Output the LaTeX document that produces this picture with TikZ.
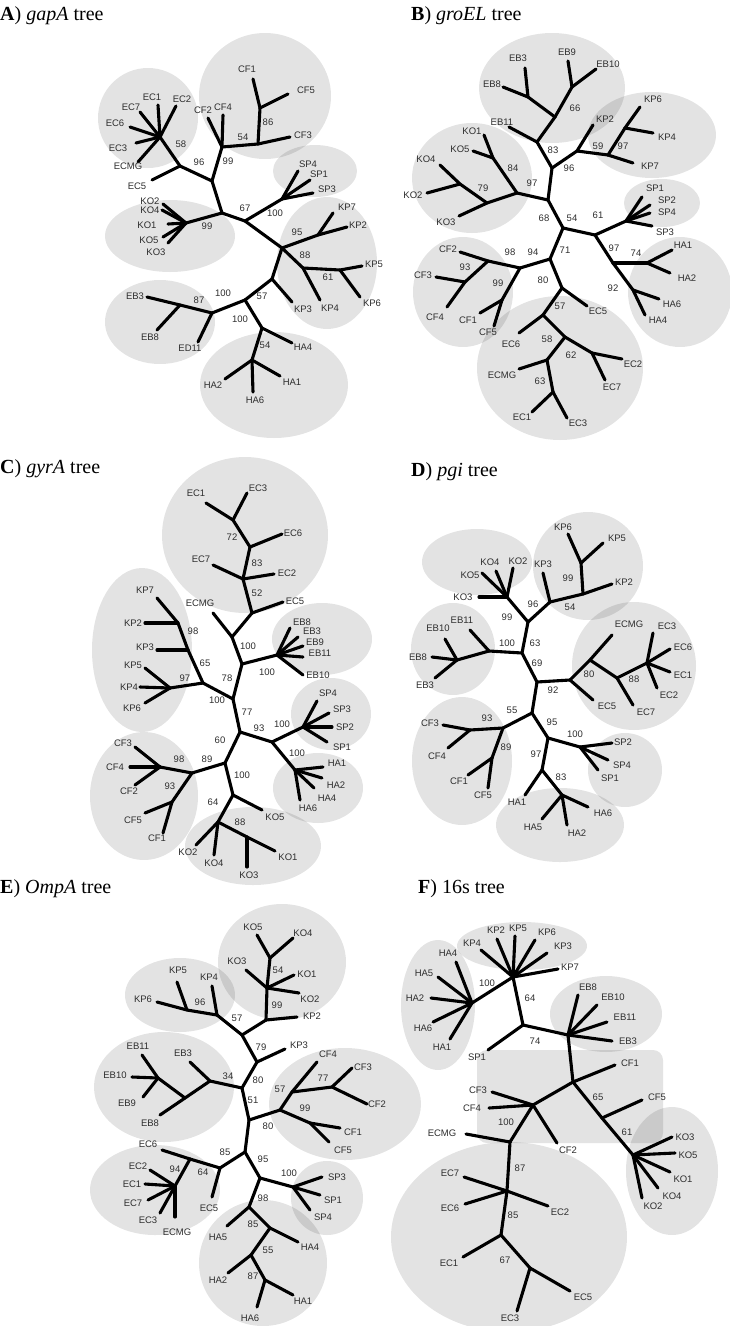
\documentclass[tikz,border=0pt]{standalone}
\usepackage{fontspec}
\setmainfont{Liberation Serif}
\setsansfont{Liberation Sans}
\begin{document}
\begin{tikzpicture}[x=1pt,y=-1pt,
  clade/.style={fill=black,fill opacity=0.11,draw=none},
  br/.style={line width=3.1pt,line cap=round,line join=round},
  lbl/.style={font=\sffamily\fontsize{9.5}{10}\selectfont,text=black!82,inner sep=0pt},
  capt/.style={font=\fontsize{20}{22}\selectfont,anchor=base west,inner sep=0pt}]
\useasboundingbox (0,0) rectangle (730,1326);

% ---------- captions ----------
\node[capt] (capA) at (0,20)    {\textbf{A}) \textit{gapA} tree};
\node[capt] (capB) at (411,20)  {\textbf{B}) \textit{groEL} tree};
\node[capt] (capC) at (0,473)   {\textbf{C}) \textit{gyrA} tree};
\node[capt] (capD) at (411,476) {\textbf{D}) \textit{pgi} tree};
\node[capt] (capE) at (0,893)   {\textbf{E}) \textit{OmpA} tree};
\node[capt] (capF) at (418,893) {\textbf{F}) 16s tree};

% ---------- clade shading ----------
% A
\fill[clade] (148,118) ellipse [x radius=50,y radius=50];
\fill[clade] (265,96)  ellipse [x radius=66,y radius=63];
\fill[clade] (315,171) ellipse [x radius=42,y radius=26];
\fill[clade] (170,236) ellipse [x radius=65,y radius=36];
\fill[clade] (327,263) ellipse [x radius=50,y radius=66];
\fill[clade] (160,322) ellipse [x radius=55,y radius=42];
\fill[clade] (274,385) ellipse [x radius=74,y radius=53];
% B
\fill[clade] (552,88)  ellipse [x radius=73,y radius=55];
\fill[clade] (652,135) ellipse [x radius=64,y radius=43];
\fill[clade] (472,178) ellipse [x radius=60,y radius=55];
\fill[clade] (662,203) ellipse [x radius=38,y radius=24];
\fill[clade] (463,292) ellipse [x radius=50,y radius=55];
\fill[clade] (680,292) ellipse [x radius=52,y radius=55];
\fill[clade] (560,368) ellipse [x radius=83,y radius=72];
% C
\fill[clade] (245,535) ellipse [x radius=83,y radius=78];
\fill[clade] (142,650) ellipse [x radius=50,y radius=82];
\fill[clade] (322,639) ellipse [x radius=50,y radius=36];
\fill[clade] (331,714) ellipse [x radius=40,y radius=36];
\fill[clade] (318,788) ellipse [x radius=45,y radius=35];
\fill[clade] (144,796) ellipse [x radius=54,y radius=64];
\fill[clade] (253,846) ellipse [x radius=68,y radius=39];
% D
\fill[clade] (477,562) ellipse [x radius=55,y radius=33];
\fill[clade] (588,566) ellipse [x radius=55,y radius=54];
\fill[clade] (453,649) ellipse [x radius=42,y radius=46];
\fill[clade] (634,666) ellipse [x radius=62,y radius=64];
\fill[clade] (462,761) ellipse [x radius=50,y radius=64];
\fill[clade] (625,770) ellipse [x radius=37,y radius=37];
\fill[clade] (560,825) ellipse [x radius=64,y radius=37];
% E
\fill[clade] (282,962)  ellipse [x radius=64,y radius=58];
\fill[clade] (180,995)  ellipse [x radius=55,y radius=37];
\fill[clade] (164,1087) ellipse [x radius=70,y radius=55];
\fill[clade] (345,1104) ellipse [x radius=76,y radius=56];
\fill[clade] (155,1190) ellipse [x radius=65,y radius=45];
\fill[clade] (327,1198) ellipse [x radius=36,y radius=37];
\fill[clade] (263,1263) ellipse [x radius=64,y radius=63];
% F
\fill[clade] (438,1005) ellipse [x radius=37,y radius=65];
\fill[clade] (522,946)  ellipse [x radius=65,y radius=24];
\fill[clade] (606,1014) ellipse [x radius=56,y radius=38];
\fill[clade,rounded corners=10pt] (477,1050) rectangle (663,1143);
\fill[clade] (672,1171) ellipse [x radius=46,y radius=64];
\begin{scope}
\clip (380,1100) rectangle (730,1326);
\fill[clade] (509,1237) ellipse [x radius=118,y radius=95];
\end{scope}

% ---------- tree vertices ----------
% A
\foreach \n/\x/\y in {aH/160/137,aEC1e/158/105,aEC2e/176/106,aEC7e/140/112,aEC6e/130/127,aEC3e/136/143,aECMGe/138/162,
  a58/180/166,aEC5e/152/180,a96/212/181,a99/222/147,aCF2e/208/118,aCF4e/223/115,a54/258/144,aCF3e/290/137,
  a86/260/108,aCF1e/253/79,aCF5e/288/94,a67/222/213,aKO/186/223,aKO2e/163/204,aKO4e/162/210,aKO1e/168/224,
  aKO5e/163/237,aKO3e/168/243,aJ/245/221,aSP/282/199,aSP4e/298/171,aSP1e/310/180,aSP3e/313/193,aKP/282/248,
  a95/318/235,aKP7e/333/213,aKP2e/347/227,a88/303/268,aKP4e/320/300,a61/340/270,aKP5e/362/266,aKP6e/360/297,
  a57/272/279,aKP3e/292/302,a100/245/300,aHA/262/328,aHA4e/292/343,a54h/252/360,aHA2e/225/379,aHA6e/253/392,
  aHA1e/280/376,aEB/212/313,aED11e/198/342,a87/180/305,aEB3e/147/297,aEB8e/157/330}
  \coordinate (\n) at (\x,\y);
% B
\foreach \n/\x/\y in {bEB3e/525/68,bEB8e/503/87,bJ1/528/97,bEB9e/568/61,bEB10e/596/69,bJ2/572/87,b66/555/117,
  b83/537/142,bEB11e/509/127,b96/552/168,bKP/577/151,bKP2e/593/125,b59/608/155,bKP7e/633/163,b97/625/128,
  bKP6e/640/107,bKP4e/653/133,b68/548/200,b97k/517/193,b84/493/158,bKO1e/484/135,bKO5e/473/151,b79/487/203,
  bKOs/460/184,bKO4e/440/165,bKO2e/427/193,bKO3e/459/216,b71/563/228,bSPHA/595/235,bSP/626/221,bSP1e/642/197,
  bSP2e/650/205,bSP4e/650/213,bSP3e/652/226,b97h/613/263,b74/647/263,bHA1e/672/250,bHA2e/670/273,b92/633/290,
  bHA6e/659/299,bHA4e/645/315,b94/550/259,b98/520/268,bCF/488/261,bCF2e/460/252,b93/465/282,bCF3e/436/277,
  bCF4e/447/307,b99/502/300,bCF1e/480/313,bCF5e/494/326,b80/562/288,bEC5e/587/306,b57/543/315,bEC6e/519/333,
  b58/565/337,b62/592/353,bEC2e/622/359,bEC7e/605/380,b63n/547/360,bECMGe/519/369,b63/553/392,bEC1e/532/412,
  bEC3e/567/418}
  \coordinate (\n) at (\x,\y);
% C
\foreach \n/\x/\y in {cEC1e/206/503,cEC3e/247/493,c72/233/520,c83/250/547,cEC6e/282/534,c52/243/579,cEC7e/213/565,
  cEC2e/274/574,c100/252/613,cEC5e/283/602,cN/232/637,cECMGe/213/613,cEBn/242/664,cEB/277/655,cEB8e/290/628,
  cEB3e/298/637,cEB9e/303/646,cEB11e/303/657,cEB10e/303/675,c77/233/699,cKP/203/683,c97/170/688,cKP5e/145/668,
  cKP4e/140/687,cKP6e/145/703,c65/188/650,cKP3e/157/650,c98/178/623,cKP7e/157/598,cKP2e/145/623,c60/240/732,
  c93/272/742,cSP/303/727,cSP4e/317/701,cSP3e/329/713,cSP2e/332/727,cSP1e/327/742,cHA/295/770,cHA1e/323/767,
  cHA2e/322/778,cHA4e/314/788,cHA6e/300/800,c89/225/763,cCF/192/773,cCFh/160/767,cCF3e/135/747,cCF4e/130/767,
  cCF2e/135/785,c93c/172/802,cCF5e/145/813,cCF1e/163/833,cKOn/233/795,cKO5e/262/810,c64/218/822,cKO2e/196/845,
  cKO4e/214/855,c88/247/837,cKO3e/247/867,cKO1e/275/851}
  \coordinate (\n) at (\x,\y);
% D
\foreach \n/\x/\y in {dKP6e/568/534,dKP5e/603/543,d99/581/563,d54n/583/594,dKP2e/612/584,d96/550/602,dKP3e/543/573,
  d63n/528/622,dKO/507/597,dKO4e/496/571,dKO2e/513/568,dKO5e/482/573,dKO3e/479/597,d69/522/653,dEBa/489/651,
  dEB11e/470/630,dEBb/457/660,dEB10e/445/639,dEB8e/432/657,dEB3e/435/678,d92/537/682,d80/570/680,dEC5e/593/700,
  dECa/590/660,dECMGe/612/635,d88/617/678,dEC7e/633/705,dEC/647/663,dEC1e/670/672,dEC2e/657/688,dEC3e/653/633,
  dEC6e/670/649,d55/532/713,dCF/503/728,d93/470/730,dCF3e/443/725,dCF4e/448/748,d89/492/758,dCF1e/468/775,
  dCF5e/488/788,d95/548/738,dSP/580/747,dSP2e/612/743,dSP4e/608/760,dSP1e/598/770,d97/542/770,dHA1e/525/795,
  d83/562/795,dHA5e/542/819,dHA2e/567/825,dHA6e/588/807}
  \coordinate (\n) at (\x,\y);
% E
\foreach \n/\x/\y in {eKO5e/257/935,eKO4e/293/938,e54/270/958,eKO/267/988,eKO3e/246/970,eKO1e/294/975,eKO2e/299/993,
  e99/266/1020,eKP2e/297/1017,e57/242/1035,eKP/217/1015,eKP4e/212/986,e96/187/1010,eKP5e/177/982,eKP6e/157/1002,
  e79/257/1062,eKP3e/285/1049,e80/242/1088,e84/210/1081,eEB3e/190/1062,eEBn/185/1098,eEB/158/1078,eEB11e/142/1055,
  eEB10e/132/1077,eEB9e/143/1097,eEB8e/160/1115,e51/249/1120,eCF/280/1110,e57c/292/1092,eCF4e/317/1062,
  e77/332/1087,eCF3e/352/1068,eCF2e/367/1104,e99c/310/1123,eCF1e/340/1128,eCF5e/329/1142,e85/245/1152,
  e64/220/1168,eEC5e/212/1197,eEC6e/162/1150,e94/190/1159,eEC/175/1186,eEC2e/150/1170,eEC1e/145/1184,
  eEC7e/148/1200,eEC3e/160/1213,eECMGe/175/1217,e95/260/1178,eSP/293/1187,eSP3e/322/1177,eSP1e/320/1195,
  eSP4e/310/1210,e98/249/1207,eHA5e/227/1226,e85h/270/1228,eHA4e/298/1242,e55/251/1255,eHA2e/228/1273,
  e87/265/1280,eHA1e/293/1295,eHA6e/257/1307}
  \coordinate (\n) at (\x,\y);
% F
\foreach \n/\x/\y in {fHA/472/1003,fHA4e/456/962,fHA5e/438/977,fHA2e/431/998,fHA6e/433/1022,fHA1e/450/1039,
  fKP/513/977,fKP4e/481/950,fKP2e/497/939,fKP5e/515/936,fKP6e/535/940,fKP3e/547/953,fKP7e/558/969,f64/523/1025,
  fSP1e/488/1050,fEB/568/1035,fEB8e/578/995,fEB10e/597/1005,fEB11e/607/1022,fEB3e/612/1041,fCFn/573/1082,
  fCF1e/615/1065,f65/602/1118,fCF5e/642/1100,fKO/633/1155,fKO3e/672/1137,fKO5e/675/1153,fKO1e/670/1172,
  fKO4e/658/1188,fKO2e/642/1198,fCF/533/1105,fCF3e/492/1092,fCF4e/489/1108,fCF2e/557/1143,f100/510/1142,
  fECMGe/466/1134,f87/507/1191,fEC7e/464/1177,fEC6e/465/1204,fEC2e/548/1206,f85/501/1235,fEC1e/463/1257,
  f67/530/1268,fEC5e/570/1291,fEC3e/517/1311}
  \coordinate (\n) at (\x,\y);

% ---------- branches ----------
\foreach \a/\b in {aH/aEC1e,aH/aEC2e,aH/aEC7e,aH/aEC6e,aH/aEC3e,aH/aECMGe,aH/a58,a58/aEC5e,a58/a96,a96/a99,
  a99/aCF2e,a99/aCF4e,a99/a54,a54/aCF3e,a54/a86,a86/aCF1e,a86/aCF5e,a96/a67,a67/aKO,aKO/aKO2e,aKO/aKO4e,
  aKO/aKO1e,aKO/aKO5e,aKO/aKO3e,a67/aJ,aJ/aSP,aSP/aSP4e,aSP/aSP1e,aSP/aSP3e,aJ/aKP,aKP/a95,a95/aKP7e,a95/aKP2e,
  aKP/a88,a88/aKP4e,a88/a61,a61/aKP5e,a61/aKP6e,aKP/a57,a57/aKP3e,a57/a100,a100/aHA,aHA/aHA4e,aHA/a54h,
  a54h/aHA2e,a54h/aHA6e,a54h/aHA1e,a100/aEB,aEB/aED11e,aEB/a87,a87/aEB3e,a87/aEB8e}
  \draw[br] (\a) -- (\b);
\foreach \a/\b in {bJ1/bEB3e,bJ1/bEB8e,bJ2/bEB9e,bJ2/bEB10e,bJ1/b66,bJ2/b66,b66/b83,b83/bEB11e,b83/b96,b96/bKP,
  bKP/bKP2e,bKP/b59,b59/bKP7e,b59/b97,b97/bKP6e,b97/bKP4e,b96/b68,b68/b97k,b97k/b84,b84/bKO1e,b84/bKO5e,
  b97k/b79,b79/bKOs,bKOs/bKO4e,bKOs/bKO2e,b79/bKO3e,b68/b71,b71/bSPHA,bSPHA/bSP,bSP/bSP1e,bSP/bSP2e,bSP/bSP4e,
  bSP/bSP3e,bSPHA/b97h,b97h/b74,b74/bHA1e,b74/bHA2e,b97h/b92,b92/bHA6e,b92/bHA4e,b71/b94,b94/b98,b98/bCF,
  bCF/bCF2e,bCF/b93,b93/bCF3e,b93/bCF4e,b98/b99,b99/bCF1e,b99/bCF5e,b94/b80,b80/bEC5e,b80/b57,b57/bEC6e,
  b57/b58,b58/b62,b62/bEC2e,b62/bEC7e,b58/b63n,b63n/bECMGe,b63n/b63,b63/bEC1e,b63/bEC3e}
  \draw[br] (\a) -- (\b);
\foreach \a/\b in {c72/cEC1e,c72/cEC3e,c72/c83,c83/cEC6e,c83/c52,c52/cEC7e,c52/cEC2e,c52/c100,c100/cEC5e,
  c100/cN,cN/cECMGe,cN/cEBn,cEBn/cEB,cEB/cEB8e,cEB/cEB3e,cEB/cEB9e,cEB/cEB11e,cEB/cEB10e,cEBn/c77,c77/cKP,
  cKP/c97,c97/cKP5e,c97/cKP4e,c97/cKP6e,cKP/c65,c65/cKP3e,c65/c98,c98/cKP7e,c98/cKP2e,c77/c60,c60/c93,
  c93/cSP,cSP/cSP4e,cSP/cSP3e,cSP/cSP2e,cSP/cSP1e,c93/cHA,cHA/cHA1e,cHA/cHA2e,cHA/cHA4e,cHA/cHA6e,c60/c89,
  c89/cCF,cCF/cCFh,cCFh/cCF3e,cCFh/cCF4e,cCFh/cCF2e,cCF/c93c,c93c/cCF5e,c93c/cCF1e,c89/cKOn,cKOn/cKO5e,
  cKOn/c64,c64/cKO2e,c64/cKO4e,c64/c88,c88/cKO3e,c88/cKO1e}
  \draw[br] (\a) -- (\b);
\foreach \a/\b in {d99/dKP6e,d99/dKP5e,d99/d54n,d54n/dKP2e,d54n/d96,d96/dKP3e,d96/d63n,d63n/dKO,dKO/dKO4e,
  dKO/dKO2e,dKO/dKO5e,dKO/dKO3e,d63n/d69,d69/dEBa,dEBa/dEB11e,dEBa/dEBb,dEBb/dEB10e,dEBb/dEB8e,dEBb/dEB3e,
  d69/d92,d92/d80,d80/dEC5e,d80/dECa,dECa/dECMGe,dECa/d88,d88/dEC7e,d88/dEC,dEC/dEC1e,dEC/dEC2e,dEC/dEC3e,
  dEC/dEC6e,d92/d55,d55/dCF,dCF/d93,d93/dCF3e,d93/dCF4e,dCF/d89,d89/dCF1e,d89/dCF5e,d55/d95,d95/dSP,
  dSP/dSP2e,dSP/dSP4e,dSP/dSP1e,d95/d97,d97/dHA1e,d97/d83,d83/dHA5e,d83/dHA2e,d83/dHA6e}
  \draw[br] (\a) -- (\b);
\foreach \a/\b in {e54/eKO5e,e54/eKO4e,e54/eKO,eKO/eKO3e,eKO/eKO1e,eKO/eKO2e,eKO/e99,e99/eKP2e,e99/e57,
  e57/eKP,eKP/eKP4e,eKP/e96,e96/eKP5e,e96/eKP6e,e57/e79,e79/eKP3e,e79/e80,e80/e84,e84/eEB3e,e84/eEBn,
  eEBn/eEB,eEB/eEB11e,eEB/eEB10e,eEB/eEB9e,eEBn/eEB8e,e80/e51,e51/eCF,eCF/e57c,e57c/eCF4e,e57c/e77,
  e77/eCF3e,e77/eCF2e,eCF/e99c,e99c/eCF1e,e99c/eCF5e,e51/e85,e85/e64,e64/eEC5e,e64/e94,e94/eEC6e,e94/eEC,
  eEC/eEC2e,eEC/eEC1e,eEC/eEC7e,eEC/eEC3e,eEC/eECMGe,e85/e95,e95/eSP,eSP/eSP3e,eSP/eSP1e,eSP/eSP4e,e95/e98,
  e98/eHA5e,e98/e85h,e85h/eHA4e,e85h/e55,e55/eHA2e,e55/e87,e87/eHA1e,e87/eHA6e}
  \draw[br] (\a) -- (\b);
\foreach \a/\b in {fHA/fHA4e,fHA/fHA5e,fHA/fHA2e,fHA/fHA6e,fHA/fHA1e,fHA/fKP,fKP/fKP4e,fKP/fKP2e,fKP/fKP5e,
  fKP/fKP6e,fKP/fKP3e,fKP/fKP7e,fKP/f64,f64/fSP1e,f64/fEB,fEB/fEB8e,fEB/fEB10e,fEB/fEB11e,fEB/fEB3e,
  fEB/fCFn,fCFn/fCF1e,fCFn/f65,f65/fCF5e,f65/fKO,fKO/fKO3e,fKO/fKO5e,fKO/fKO1e,fKO/fKO4e,fKO/fKO2e,
  fCFn/fCF,fCF/fCF3e,fCF/fCF4e,fCF/fCF2e,fCF/f100,f100/fECMGe,f100/f87,f87/fEC7e,f87/fEC6e,f87/fEC2e,
  f87/f85,f85/fEC1e,f85/f67,f67/fEC5e,f67/fEC3e}
  \draw[br] (\a) -- (\b);

% ---------- labels ----------
\foreach \n/\x/\y/\t in {aT1/152/97/EC1,aT2/182/99/EC2,aT3/131/107/EC7,aT4/115/123/EC6,aT5/118/148/EC3,
  aT6/128/166/ECMG,aT7/181/144/58,aT8/137/186/EC5,aT9/199/162/96,aT10/228/161/99,aT11/203/110/CF2,
  aT12/223/107/CF4,aT13/243/137/54,aT14/303/135/CF3,aT15/247/69/CF1,aT16/306/90/CF5,aT17/268/122/86,
  aT18/245/208/67,aT19/150/201/KO2,aT20/150/210/KO4,aT21/147/225/KO1,aT22/149/240/KO5,aT23/156/252/KO3,
  aT24/207/226/99,aT25/275/213/100,aT26/308/164/SP4,aT27/319/174/SP1,aT28/327/189/SP3,aT29/347/207/KP7,
  aT30/358/225/KP2,aT31/297/232/95,aT32/305/255/88,aT33/328/277/61,aT34/374/264/KP5,aT35/372/303/KP6,
  aT36/330/308/KP4,aT37/303/309/KP3,aT38/262/296/57,aT39/223/293/100,aT40/240/319/100,aT41/303/347/HA4,
  aT42/265/345/54,aT43/213/385/HA2,aT44/255/400/HA6,aT45/292/382/HA1,aT46/135/296/EB3,aT47/150/337/EB8,
  aT48/190/348/ED11,aT49/199/300/87}
  \node[lbl] (\n) at (\x,\y) {\t};
\foreach \n/\x/\y/\t in {bT1/518/58/EB3,bT2/492/84/EB8,bT3/567/52/EB9,bT4/608/64/EB10,bT5/502/122/EB11,
  bT6/575/108/66,bT7/553/150/83,bT8/569/168/96,bT9/605/119/KP2,bT10/598/146/59,bT11/623/146/97,
  bT12/653/99/KP6,bT13/667/137/KP4,bT14/650/166/KP7,bT15/472/131/KO1,bT16/460/149/KO5,bT17/513/168/84,
  bT18/532/183/97,bT19/483/188/79,bT20/426/159/KO4,bT21/413/195/KO2,bT22/446/222/KO3,bT23/544/218/68,
  bT24/572/218/54,bT25/598/215/61,bT26/655/188/SP1,bT27/667/200/SP2,bT28/667/212/SP4,bT29/665/232/SP3,
  bT30/565/250/71,bT31/614/248/97,bT32/636/253/74,bT33/683/245/HA1,bT34/687/278/HA2,bT35/613/288/92,
  bT36/672/304/HA6,bT37/658/320/HA4,bT38/448/249/CF2,bT39/510/252/98,bT40/533/252/94,bT41/465/267/93,
  bT42/423/275/CF3,bT43/435/317/CF4,bT44/498/283/99,bT45/468/320/CF1,bT46/488/332/CF5,bT47/543/280/80,
  bT48/598/311/EC5,bT49/560/306/57,bT50/511/344/EC6,bT51/547/339/58,bT52/571/355/62,bT53/633/364/EC2,
  bT54/612/387/EC7,bT55/502/375/ECMG,bT56/540/381/63,bT57/522/417/EC1,bT58/578/423/EC3}
  \node[lbl] (\n) at (\x,\y) {\t};
\foreach \n/\x/\y/\t in {cT1/196/493/EC1,cT2/258/488/EC3,cT3/232/537/72,cT4/293/533/EC6,cT5/257/563/83,
  cT6/201/559/EC7,cT7/287/573/EC2,cT8/257/593/52,cT9/295/601/EC5,cT10/248/646/100,cT11/200/603/ECMG,
  cT12/302/622/EB8,cT13/312/631/EB3,cT14/315/642/EB9,cT15/320/653/EB11,cT16/318/675/EB10,cT17/267/672/100,
  cT18/227/678/78,cT19/217/700/100,cT20/185/678/97,cT21/133/665/KP5,cT22/129/687/KP4,cT23/132/708/KP6,
  cT24/205/663/65,cT25/145/590/KP7,cT26/133/623/KP2,cT27/145/647/KP3,cT28/193/631/98,cT29/247/712/77,
  cT30/259/728/93,cT31/282/724/100,cT32/328/693/SP4,cT33/342/709/SP3,cT34/345/727/SP2,cT35/342/747/SP1,
  cT36/297/753/100,cT37/337/763/HA1,cT38/336/785/HA2,cT39/327/798/HA4,cT40/308/808/HA6,cT41/220/740/60,
  cT42/207/759/89,cT43/242/775/100,cT44/179/759/98,cT45/123/743/CF3,cT46/115/767/CF4,cT47/129/791/CF2,
  cT48/170/786/93,cT49/133/820/CF5,cT50/157/838/CF1,cT51/275/817/KO5,cT52/213/802/64,cT53/240/822/88,
  cT54/188/852/KO2,cT55/214/863/KO4,cT56/249/875/KO3,cT57/288/857/KO1}
  \node[lbl] (\n) at (\x,\y) {\t};
\foreach \n/\x/\y/\t in {dT1/563/527/KP6,dT2/617/538/KP5,dT3/624/582/KP2,dT4/543/564/KP3,dT5/568/578/99,
  dT6/570/607/54,dT7/533/604/96,dT8/490/562/KO4,dT9/518/561/KO2,dT10/470/575/KO5,dT11/463/597/KO3,
  dT12/507/617/99,dT13/507/643/100,dT14/535/643/63,dT15/438/628/EB10,dT16/462/620/EB11,dT17/418/657/EB8,
  dT18/425/685/EB3,dT19/537/663/69,dT20/553/690/92,dT21/589/674/80,dT22/607/706/EC5,dT23/629/624/ECMG,
  dT24/667/626/EC3,dT25/683/647/EC6,dT26/683/675/EC1,dT27/669/695/EC2,dT28/634/679/88,dT29/646/712/EC7,
  dT30/512/710/55,dT31/552/722/95,dT32/487/718/93,dT33/430/723/CF3,dT34/437/756/CF4,dT35/506/747/89,
  dT36/459/781/CF1,dT37/483/795/CF5,dT38/575/734/100,dT39/623/742/SP2,dT40/622/765/SP4,dT41/610/778/SP1,
  dT42/536/754/97,dT43/561/777/83,dT44/517/802/HA1,dT45/533/827/HA5,dT46/577/833/HA2,dT47/603/813/HA6}
  \node[lbl] (\n) at (\x,\y) {\t};
\foreach \n/\x/\y/\t in {eT1/253/927/KO5,eT2/303/933/KO4,eT3/237/961/KO3,eT4/307/974/KO1,eT5/310/999/KO2,
  eT6/278/970/54,eT7/277/1005/99,eT8/312/1016/KP2,eT9/237/1018/57,eT10/178/970/KP5,eT11/209/977/KP4,
  eT12/143/999/KP6,eT13/200/1002/96,eT14/261/1047/79,eT15/299/1045/KP3,eT16/258/1080/80,eT17/228/1076/34,
  eT18/183/1053/EB3,eT19/138/1046/EB11,eT20/115/1075/EB10,eT21/127/1103/EB9,eT22/150/1123/EB8,
  eT23/253/1100/51,eT24/280/1089/57,eT25/328/1054/CF4,eT26/323/1078/77,eT27/363/1067/CF3,eT28/377/1104/CF2,
  eT29/305/1108/99,eT30/268/1126/80,eT31/353/1132/CF1,eT32/343/1150/CF5,eT33/225/1152/85,eT34/263/1159/95,
  eT35/203/1172/64,eT36/209/1208/EC5,eT37/148/1144/EC6,eT38/175/1169/94,eT39/138/1166/EC2,eT40/132/1184/EC1,
  eT41/133/1203/EC7,eT42/148/1220/EC3,eT43/177/1232/ECMG,eT44/289/1173/100,eT45/337/1177/SP3,
  eT46/333/1200/SP1,eT47/323/1217/SP4,eT48/263/1198/98,eT49/218/1237/HA5,eT50/253/1224/85,eT51/310/1247/HA4,
  eT52/268/1250/55,eT53/218/1280/HA2,eT54/253/1276/87,eT55/303/1301/HA1,eT56/250/1318/HA6}
  \node[lbl] (\n) at (\x,\y) {\t};
\foreach \n/\x/\y/\t in {fT1/448/953/HA4,fT2/424/973/HA5,fT3/415/998/HA2,fT4/423/1028/HA6,fT5/442/1047/HA1,
  fT6/487/983/100,fT7/472/943/KP4,fT8/496/930/KP2,fT9/518/928/KP5,fT10/547/932/KP6,fT11/563/946/KP3,
  fT12/570/967/KP7,fT13/530/998/64,fT14/477/1057/SP1,fT15/535/1041/74,fT16/588/987/EB8,fT17/613/997/EB10,
  fT18/625/1017/EB11,fT19/628/1041/EB3,fT20/630/1063/CF1,fT21/598/1097/65,fT22/657/1097/CF5,fT23/627/1132/61,
  fT24/685/1137/KO3,fT25/688/1155/KO5,fT26/683/1179/KO1,fT27/672/1196/KO4,fT28/653/1206/KO2,
  fT29/478/1090/CF3,fT30/472/1108/CF4,fT31/568/1150/CF2,fT32/506/1122/100,fT33/442/1133/ECMG,
  fT34/520/1168/87,fT35/450/1173/EC7,fT36/450/1208/EC6,fT37/560/1212/EC2,fT38/513/1215/85,fT39/449/1263/EC1,
  fT40/505/1260/67,fT41/583/1297/EC5,fT42/510/1318/EC3}
  \node[lbl] (\n) at (\x,\y) {\t};
\end{tikzpicture}
\end{document}
